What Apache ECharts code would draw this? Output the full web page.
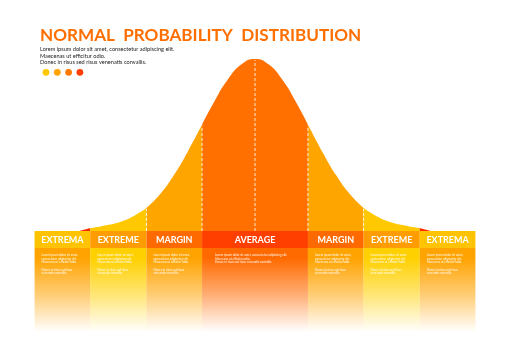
<!DOCTYPE html>
<html><head><meta charset="utf-8">
<script src="https://cdn.jsdelivr.net/npm/echarts@6/dist/echarts.min.js"></script>
<style>html,body{margin:0;padding:0;background:#fff}#c{width:510px;height:360px}</style>
</head><body><div id="c"></div>
<script>
// ---- data ----
const categories = ['EXTREMA', 'EXTREME', 'MARGIN', 'AVERAGE', 'MARGIN', 'EXTREME', 'EXTREMA'];
const bandEdges = [-4.08, -3.05, -2.01, -0.98, 0.98, 2.01, 3.05, 4.08];
const curveX = [-3.25, -3.05, -2.75, -2.5, -2.25, -2.01, -1.75, -1.5, -1.25, -0.98, -0.75, -0.5, -0.25, 0,
  0.25, 0.5, 0.75, 0.98, 1.25, 1.5, 1.75, 2.01, 2.25, 2.5, 2.75, 3.05, 3.25];
const curveY = [0, 1.7, 3.4, 5.3, 8.6, 13.3, 21.6, 32.5, 45.8, 61.9, 75.5, 88.2, 96.9, 100,
  96.9, 88.2, 75.5, 61.9, 45.8, 32.5, 21.6, 13.3, 8.6, 5.3, 3.4, 1.7, 0];
const segmentEdges = [-3.25, -3.05, -2.01, -0.98, 0.98, 2.01, 3.05, 3.25];
const dividerX = [-2.01, -0.98, 0, 0.98, 2.01];
const titleText = 'NORMAL  PROBABILITY  DISTRIBUTION';
const subtitleLines = ['Lorem ipsum dolor sit amet, consectetur adipiscing elit.', 'Maecenas ut efficitur odio.', 'Donec in risus sed risus venenatis convallis.'];
const sideBodyText = 'Lorem ipsum dolor sit amet,\nconsectetur adipiscing elit.\nMaecenas ut efficitur odio.\n\nDonec in risus sed risus\nvenenatis convallis.';
const averageBodyText = 'Lorem ipsum dolor sit amet, consectetur adipiscing elit.\nMaecenas ut efficitur odio.\nDonec in risus sed risus venenatis convallis.';

// ---- styles ----
const headerColors = ['#FFC300', '#FF9C00', '#FF6A00', '#FF3F00', '#FF6A00', '#FF9C00', '#FFC300'];
const bodyColors = ['#FFA300', '#FFD000', '#FFA300', '#FF6A00', '#FFA300', '#FFD000', '#FFA300'];
const segmentColors = ['#FF2A00', '#FFC800', '#FFA500', '#FF7000', '#FFA500', '#FFC800', '#FF2A00'];
const dotColors = ['#FFC800', '#FFA300', '#FF7A00', '#FF3F00'];

function hexA(hex, a) {
  const n = parseInt(hex.slice(1), 16);
  return 'rgba(' + (n >> 16) + ',' + ((n >> 8) & 255) + ',' + (n & 255) + ',' + a + ')';
}

const chart = echarts.init(document.getElementById('c'), null, {renderer: 'canvas'});

const curveSeries = segmentColors.map((col, i) => {
  const lo = segmentEdges[i], hi = segmentEdges[i + 1];
  const pts = [];
  curveX.forEach((x, k) => { if (x >= lo - 1e-9 && x <= hi + 1e-9) pts.push([x, curveY[k]]); });
  return {
    type: 'line', data: pts, smooth: 0.5, symbol: 'none', silent: true, z: 3,
    lineStyle: {width: 0, color: col}, areaStyle: {color: col, opacity: 1, origin: 'start'}
  };
});

const bandSeries = {
  type: 'custom', z: 2, silent: true,
  data: categories.map((c, i) => [bandEdges[i], bandEdges[i + 1]]),
  renderItem: function (params, api) {
    const i = params.dataIndex;
    const p0 = api.coord([api.value(0), 0]);
    const p1 = api.coord([api.value(1), 0]);
    const w = p1[0] - p0[0];
    const hh = 17;
    const isAvg = categories[i] === 'AVERAGE';
    return {
      type: 'group',
      children: [
        {type: 'rect', shape: {x: p0[0], y: p0[1] + hh, width: w, height: 84},
          style: {fill: {type: 'linear', x: 0, y: 0, x2: 0, y2: 1, colorStops: [
            {offset: 0, color: bodyColors[i]}, {offset: 0.12, color: bodyColors[i]},
            {offset: 0.55, color: hexA(bodyColors[i], 0.55)}, {offset: 1, color: hexA(bodyColors[i], 0)}]}}},
        {type: 'rect', shape: {x: p0[0], y: p0[1], width: w, height: hh}, style: {fill: headerColors[i]}},
        {type: 'text', x: p0[0] + w / 2, y: p0[1] + hh / 2 + 0.5,
          style: {text: categories[i], fill: '#fff', font: 'bold 9px Lato', align: 'center', verticalAlign: 'middle'}},
        {type: 'text', x: p0[0] + (isAvg ? 13 : 7), y: p0[1] + 22.5,
          style: {text: isAvg ? averageBodyText : sideBodyText, fill: 'rgba(255,255,255,0.95)',
            font: '3px Lato', lineHeight: 3.6, align: 'left', verticalAlign: 'top'}}
      ]
    };
  }
};

const dividerSeries = {
  type: 'custom', z: 4, silent: true,
  data: dividerX.map(x => [x, curveY[curveX.indexOf(x)]]),
  renderItem: function (params, api) {
    const a = api.coord([api.value(0), 0]);
    const b = api.coord([api.value(0), api.value(1)]);
    return {type: 'line', shape: {x1: a[0], y1: a[1], x2: b[0], y2: b[1] + 1},
      style: {stroke: 'rgba(255,255,255,0.85)', lineWidth: 1, lineDash: [3, 2]}};
  }
};

chart.setOption({
  animation: false,
  backgroundColor: '#fff',
  title: {
    text: titleText,
    subtext: subtitleLines.join('\n'),
    left: 40, top: 25, padding: 0, itemGap: 1,
    textStyle: {fontFamily: 'Lato', fontWeight: 'bold', fontSize: 17.1, color: '#FF6F00', lineHeight: 20},
    subtextStyle: {fontFamily: 'Lato', fontSize: 5.6, color: '#222', lineHeight: 6.5}
  },
  grid: {left: 0, right: 0, top: 59, bottom: 129},
  xAxis: {type: 'value', min: -4.72, max: 4.72, show: false},
  yAxis: {type: 'value', min: 0, max: 100, show: false},
  graphic: dotColors.map((c, i) => ({
    type: 'circle', shape: {cx: 46 + i * 11.3, cy: 72.3, r: 3.4}, style: {fill: c}
  })),
  series: [bandSeries].concat(curveSeries, [dividerSeries])
});
</script></body></html>
